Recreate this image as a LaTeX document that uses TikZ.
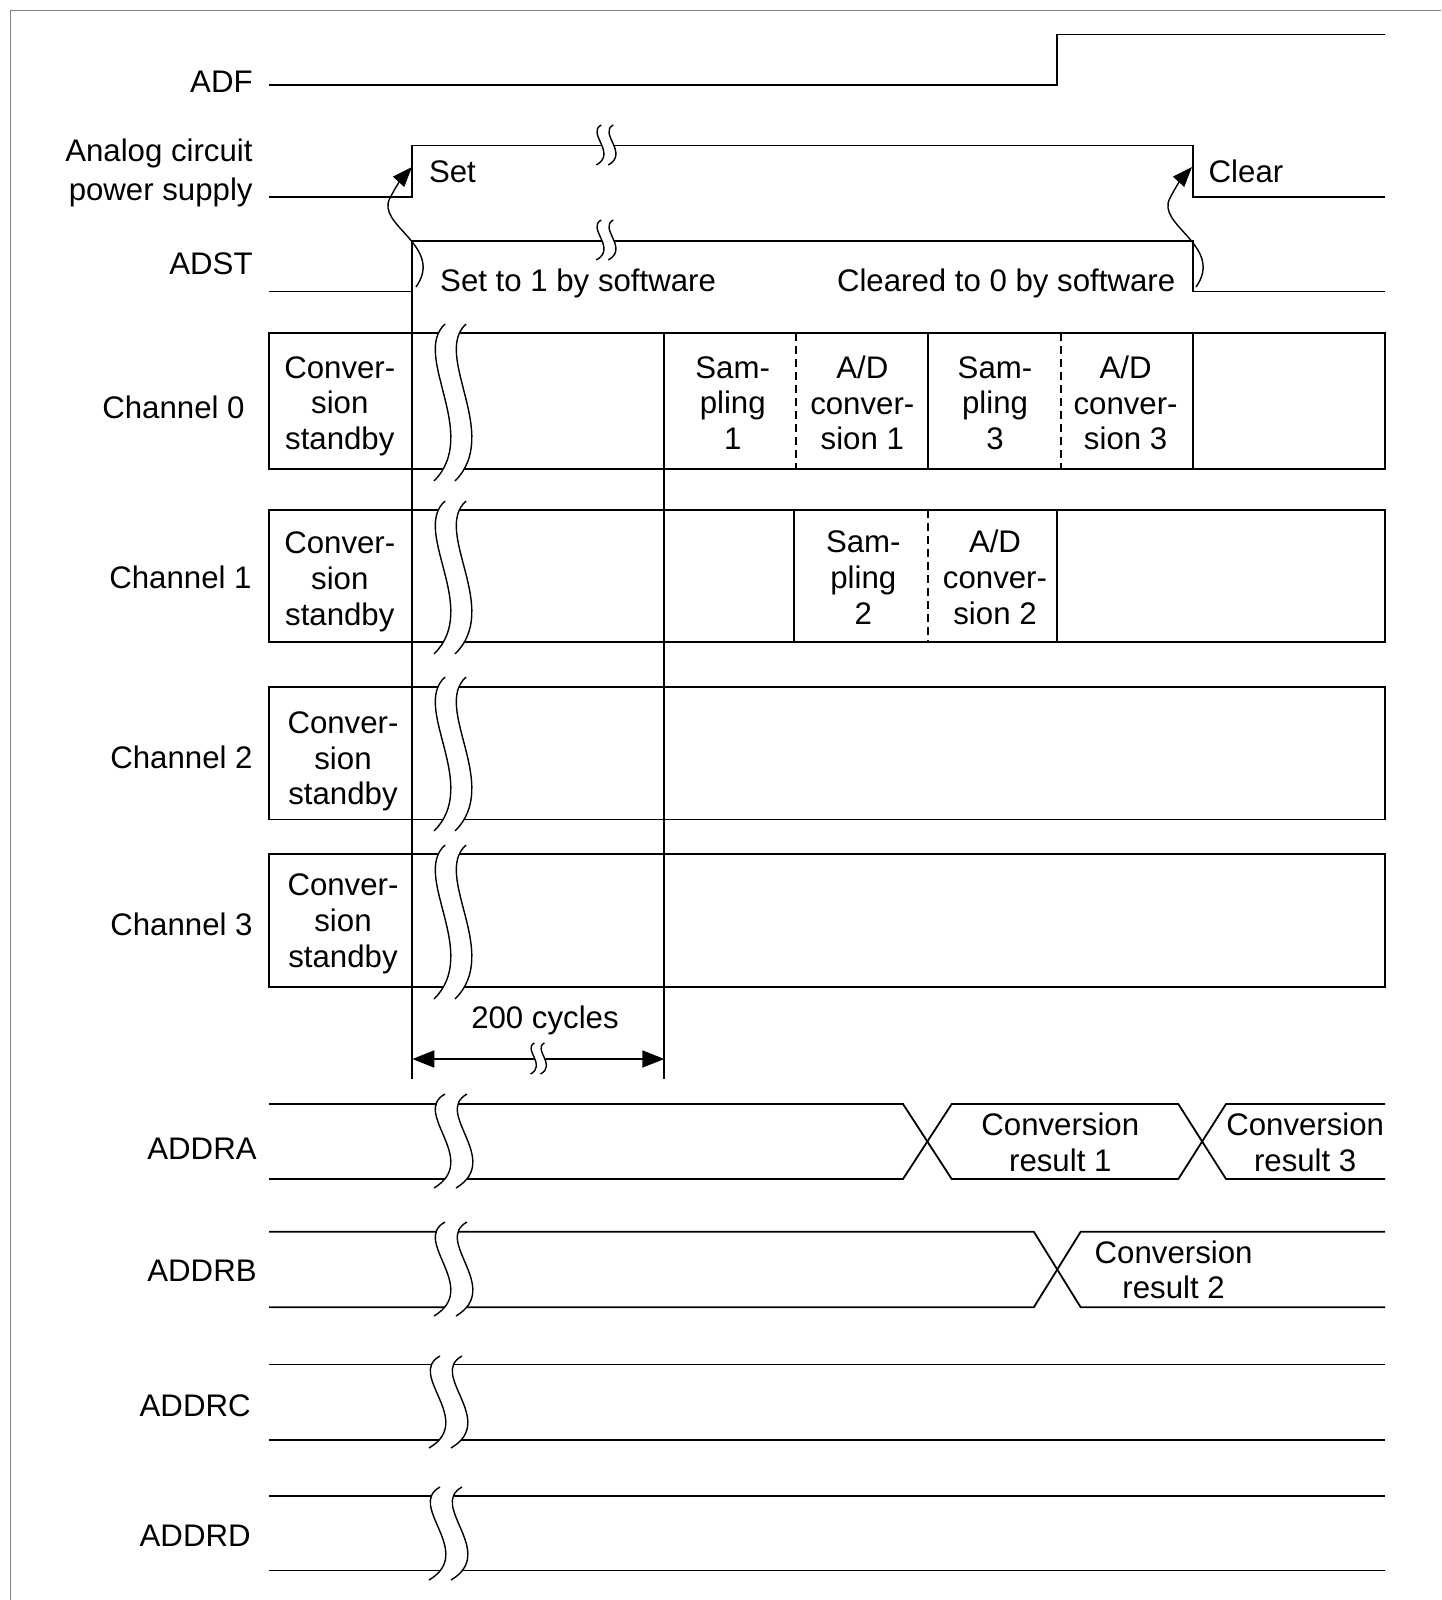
\documentclass[tikz,border=0pt]{standalone}
\usepackage{fontspec}
\setmainfont{Liberation Sans}
\usetikzlibrary{arrows.meta}

%% break mark: x, top, bottom, width, gap
\newcommand{\brkmark}[5]{%
  \pgfmathsetmacro\brkh{#3-#2}%
  \pgfmathsetmacro\brkg{#5/#4}%
  \begin{scope}[shift={(#1,#2)}, xscale=#4, yscale=\brkh]
    \fill[white] (0.4,0) .. controls (-3,0.2) and (4,0.7) .. (-0.7,1)
      -- ({-0.7+\brkg},1) .. controls ({4+\brkg},0.7) and ({-3+\brkg},0.2) .. ({0.4+\brkg},0) -- cycle;
    \draw[brk] (0.4,0) .. controls (-3,0.2) and (4,0.7) .. (-0.7,1);
    \draw[brk] ({0.4+\brkg},0) .. controls ({-3+\brkg},0.2) and ({4+\brkg},0.7) .. ({-0.7+\brkg},1);
  \end{scope}}

\begin{document}
\begin{tikzpicture}[
    x=0.5pt, y=-0.5pt,
    sig/.style  = {line width=0.9pt},
    dsh/.style  = {line width=0.9pt, dash pattern=on 4pt off 2.5pt},
    brk/.style  = {line width=0.7pt},
    txt/.style  = {font=\fontsize{15.6}{17.9}\selectfont, inner sep=0pt},
    cell/.style = {txt, align=center},
    lbl/.style  = {txt, anchor=base east},
    arr/.style  = {-{Triangle[length=10pt, width=7.5pt]}, line width=0.7pt},
    dimarr/.style = {{Triangle[length=11pt, width=8.5pt]}-{Triangle[length=11pt, width=8.5pt]}, sig},
    edgeline/.style = {line width=0.6pt, gray}
]
\useasboundingbox (0,0) rectangle (1441,1600);
\draw[edgeline] (10.3,1600) -- (10.3,10.7) -- (1441,10.7);

%% Signal labels
\node[lbl] (adf)   at (253,92.8)  {ADF};
\node[txt, align=right, anchor=east, font=\fontsize{15.6}{19.4}\selectfont] (pwr) at (253,173.3) {Analog circuit\\power supply};
\node[lbl] (adst)  at (253,274.5) {ADST};
\node[lbl] (ch0)   at (245,418.4) {Channel 0};
\node[lbl] (ch1)   at (252,588.8) {Channel 1};
\node[lbl] (ch2)   at (253,768.5) {Channel 2};
\node[lbl] (ch3)   at (253,935.8) {Channel 3};
\node[lbl] (addra) at (257,1159.3) {ADDRA};
\node[lbl] (addrb) at (257,1281.7) {ADDRB};
\node[lbl] (addrc) at (251,1416.5) {ADDRC};
\node[lbl] (addrd) at (251,1546) {ADDRD};

%% Waveforms
\draw[sig] (269,84.7) -- (1057.2,84.7) -- (1057.2,34.5) -- (1385,34.5);
\draw[sig] (269,197) -- (412.3,197) -- (412.3,145.5) -- (1192.7,145.5) -- (1192.7,197) -- (1385,197);
\draw[sig] (269,291.5) -- (412.3,291.5) -- (412.3,240.7) -- (1192.7,240.7) -- (1192.7,291.5) -- (1385,291.5);
\brkmark{599.5}{125}{165}{4.5}{12}
\brkmark{599.5}{220}{260}{4.5}{12}

\node[txt, anchor=base west] (set)   at (428.6,182.6) {Set};
\node[txt, anchor=base west] (clear) at (1208.3,182.6) {Clear};
\node[txt, anchor=base west] (setsw) at (439.8,291.7) {Set to 1 by software};
\node[txt, anchor=base east] (clrsw) at (1175.6,291.7) {Cleared to 0 by software};

\coordinate (set-from) at (416,287);
\coordinate (set-to)   at (412,167);
\coordinate (clr-from) at (1196,287);
\coordinate (clr-to)   at (1192,167);
\draw[arr] (set-from) .. controls +(29,-41) and +(-15,27) .. ++(-26,-89) .. controls +(5,-10) and +(-10,11) .. (set-to);
\draw[arr] (clr-from) .. controls +(29,-41) and +(-15,27) .. ++(-26,-89) .. controls +(5,-10) and +(-10,11) .. (clr-to);

%% Channel boxes
\draw[sig] (269,333) rectangle (1385,469);
\draw[sig] (269,510.3) rectangle (1385,641.9);
\draw[sig] (269,686.8) rectangle (1385,819.5);
\draw[sig] (269,854.2) rectangle (1385,986.8);
\draw[sig] (412.3,291.5) -- (412.3,1078.7);
\draw[sig] (664.3,333) -- (664.3,1078.7);
\draw[dsh] (796,333) -- (796,469);
\draw[sig] (927.6,333) -- (927.6,469);
\draw[dsh] (1061.3,333) -- (1061.3,469);
\draw[sig] (1193,333) -- (1193,469);
\draw[sig] (794,510.3) -- (794,641.9);
\draw[dsh] (927.6,510.3) -- (927.6,641.9);
\draw[sig] (1057.2,510.3) -- (1057.2,641.9);
\brkmark{441}{324}{481}{10}{21}
\brkmark{441}{501}{654}{10}{21}
\brkmark{441}{677}{831}{10}{21}
\brkmark{441}{845}{999}{10}{21}

\node[cell] (ch0-stby) at (339.8,406.3) {Conver-\\sion\\standby};
\node[cell] (ch0-smp1) at (732.7,403.1) {Sam-\\pling\\1};
\node[cell] (ch0-ad1)  at (862.3,403)   {A/D\\conver-\\sion 1};
\node[cell] (ch0-smp3) at (995,403.1)   {Sam-\\pling\\3};
\node[cell] (ch0-ad3)  at (1125.6,403)  {A/D\\conver-\\sion 3};
\node[cell] (ch1-stby) at (339.8,581.8) {Conver-\\sion\\standby};
\node[cell] (ch1-smp2) at (863.3,577.6) {Sam-\\pling\\2};
\node[cell] (ch1-ad2)  at (995,577.6)   {A/D\\conver-\\sion 2};
\node[cell] (ch2-stby) at (343,761.4)   {Conver-\\sion\\standby};
\node[cell] (ch3-stby) at (343,923.7)   {Conver-\\sion\\standby};

%% 200 cycles
\node[txt, anchor=base] (cyc) at (545,1028.8) {200 cycles};
\coordinate (cyc-l) at (412.3,1059);
\coordinate (cyc-r) at (664.3,1059);
\draw[dimarr] (cyc-l) -- (cyc-r);
\brkmark{533}{1043}{1074}{3.5}{10}

%% Data registers
\draw[sig] (269,1104) -- (903,1104) -- (951.7,1179) -- (1178.3,1179) -- (1226,1104) -- (1385,1104);
\draw[sig] (269,1179) -- (903,1179) -- (951.7,1104) -- (1178.3,1104) -- (1226,1179) -- (1385,1179);
\draw[sig] (269,1231.7) -- (1033.8,1231.7) -- (1080.7,1307.3) -- (1385,1307.3);
\draw[sig] (269,1307.3) -- (1033.8,1307.3) -- (1080.7,1231.7) -- (1385,1231.7);
\draw[sig] (269,1364.4) -- (1385,1364.4);
\draw[sig] (269,1440) -- (1385,1440);
\draw[sig] (269,1496) -- (1385,1496);
\draw[sig] (269,1570.5) -- (1385,1570.5);
\brkmark{441}{1094}{1188}{10}{22}
\brkmark{441}{1222}{1316}{10}{22}
\brkmark{436}{1356}{1448}{10}{22}
\brkmark{436}{1487}{1580}{10}{22}

\node[cell] (res1) at (1060.3,1142.3) {Conversion\\result 1};
\node[cell] (res3) at (1305.2,1142.3) {Conversion\\result 3};
\node[cell] (res2) at (1173.6,1269.9) {Conversion\\result 2};

\end{tikzpicture}
\end{document}
